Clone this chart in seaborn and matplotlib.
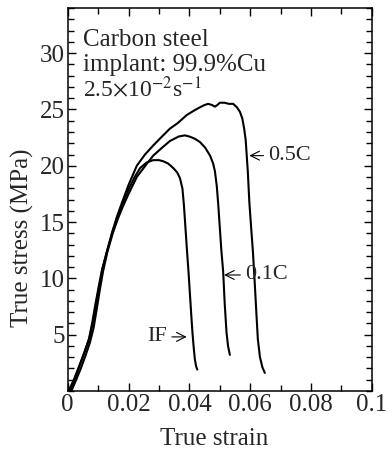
import numpy as np
import pandas as pd
import matplotlib
matplotlib.use("Agg")
import matplotlib.pyplot as plt
from matplotlib.ticker import MultipleLocator, FixedLocator
import seaborn as sns

# curve data (true strain, true stress in MPa)
if_strain = [0.0003, 0.002, 0.0036, 0.0053, 0.0069, 0.0080, 0.0091, 0.0102, 0.0113, 0.013,
             0.0146, 0.0162, 0.0178, 0.020, 0.022, 0.0238, 0.026, 0.0281, 0.030, 0.0314,
             0.033, 0.0347, 0.0360, 0.0369, 0.0377, 0.0382, 0.0387, 0.0392, 0.0397, 0.0402,
             0.0406, 0.0410, 0.0414, 0.0418, 0.0422, 0.0426]
if_stress = [0, 1.0, 2.1, 3.3, 4.5, 6.0, 7.7, 9.3, 10.8, 12.5,
             14.0, 15.3, 16.5, 17.9, 19.0, 19.8, 20.3, 20.5, 20.5, 20.4,
             20.2, 19.8, 19.4, 18.9, 18.0, 16.5, 14.5, 12.5, 10.6, 8.5,
             6.8, 5.2, 3.9, 2.8, 2.2, 1.9]

c01_strain = [0.0012, 0.0028, 0.0043, 0.0058, 0.0073, 0.0085, 0.0095, 0.0105, 0.0116, 0.013,
              0.0148, 0.0165, 0.018, 0.020, 0.0227, 0.0255, 0.0281, 0.031, 0.0336, 0.0365,
              0.0385, 0.040, 0.0418, 0.0435, 0.0452, 0.0468, 0.0478, 0.0484, 0.0490, 0.0495,
              0.0500, 0.0505, 0.0511, 0.0516, 0.0522, 0.0527, 0.0533]
c01_stress = [0, 1.0, 2.0, 3.1, 4.3, 5.6, 7.2, 8.9, 10.6, 12.3,
              14.0, 15.3, 16.3, 17.5, 19.0, 20.0, 20.9, 21.6, 22.2, 22.6,
              22.7, 22.6, 22.4, 22.1, 21.6, 20.9, 20.2, 19.5, 18.2, 16.5,
              14.5, 12.5, 10.6, 7.8, 5.2, 4.0, 3.2]

c05_strain = [0.0008, 0.0024, 0.004, 0.0056, 0.0072, 0.0084, 0.0094, 0.0104, 0.0114, 0.013,
              0.0146, 0.0162, 0.0178, 0.020, 0.0227, 0.0254, 0.0281, 0.031, 0.0336, 0.0362,
              0.0391, 0.0415, 0.0435, 0.0450, 0.0462, 0.0474, 0.0484, 0.0492, 0.050, 0.0515,
              0.0530, 0.0544, 0.0556, 0.0566, 0.0574, 0.058, 0.0585, 0.0588, 0.0592, 0.0597,
              0.0603, 0.0609, 0.0615, 0.0620, 0.0625, 0.0632, 0.0640, 0.0648]
c05_stress = [0, 1.1, 2.3, 3.5, 4.8, 6.2, 7.8, 9.3, 10.8, 12.5,
              14.1, 15.5, 16.7, 18.3, 20.0, 21.0, 21.8, 22.6, 23.3, 23.8,
              24.5, 24.9, 25.2, 25.4, 25.5, 25.4, 25.25, 25.4, 25.6, 25.6,
              25.5, 25.5, 25.2, 24.8, 24.2, 23.3, 22.3, 21.1, 19.5, 16.8,
              14.5, 12.3, 9.5, 7.0, 4.6, 3.0, 2.1, 1.6]

x_ticks = [0, 0.02, 0.04, 0.06, 0.08, 0.1]
x_ticklabels = ["0", "0.02", "0.04", "0.06", "0.08", "0.1"]
y_ticks = [5, 10, 15, 20, 25, 30]

df = pd.concat([
    pd.DataFrame({"strain": if_strain, "stress": if_stress, "steel": "IF"}),
    pd.DataFrame({"strain": c01_strain, "stress": c01_stress, "steel": "0.1C"}),
    pd.DataFrame({"strain": c05_strain, "stress": c05_stress, "steel": "0.5C"}),
])

sns.set_style("ticks")
plt.rcParams["font.family"] = ["Liberation Serif", "DejaVu Serif"]
plt.rcParams["mathtext.fontset"] = "stix"

fig = plt.figure(figsize=(3.87, 4.53), dpi=100)
ax = fig.add_axes([0.175, 0.137, 0.786, 0.845])

sns.lineplot(data=df, x="strain", y="stress", hue="steel", units="steel", estimator=None,
             sort=False, palette=["black", "black", "black"], linewidth=1.5, legend=False, ax=ax)

ax.set_xlim(0, 0.1)
ax.set_ylim(0, 34)
ax.xaxis.set_major_locator(FixedLocator(x_ticks))
ax.set_xticklabels(x_ticklabels)
ax.yaxis.set_major_locator(FixedLocator(y_ticks))
ax.xaxis.set_minor_locator(MultipleLocator(0.01))
ax.yaxis.set_minor_locator(MultipleLocator(1))
ax.tick_params(which="both", direction="in", top=True, right=True, labelsize=18, width=1, color="black")
ax.tick_params(which="major", length=6, pad=2)
ax.tick_params(which="minor", length=4)
for s in ax.spines.values():
    s.set_linewidth(1.1)
    s.set_color("black")

ax.set_xlabel("True strain", fontsize=18)
ax.set_ylabel("True stress (MPa)", fontsize=18)
ax.xaxis.set_label_coords(0.48, -0.097)
ax.yaxis.set_label_coords(-0.111, 0.40)

ax.text(0.005, 30.6, "Carbon steel", fontsize=18, va="baseline")
ax.text(0.005, 28.4, "implant: 99.9%Cu", fontsize=18, va="baseline")
ax.text(0.005, 26.1, r"2.5$\times$10$^{-2}$s$^{-1}$", fontsize=17, va="baseline")

arrow = dict(arrowstyle="->", lw=0.8, color="black", shrinkA=1, shrinkB=0)
ax.annotate("0.5C", xy=(0.0597, 20.9), xytext=(0.0659, 20.9), fontsize=16,
            va="center", ha="left", arrowprops=arrow)
ax.annotate("0.1C", xy=(0.0514, 10.3), xytext=(0.0583, 10.3), fontsize=16,
            va="center", ha="left", arrowprops=arrow)
ax.annotate("IF", xy=(0.0391, 4.8), xytext=(0.0327, 4.8), fontsize=16,
            va="center", ha="right", arrowprops=arrow)

fig.savefig("out.png", dpi=100)
